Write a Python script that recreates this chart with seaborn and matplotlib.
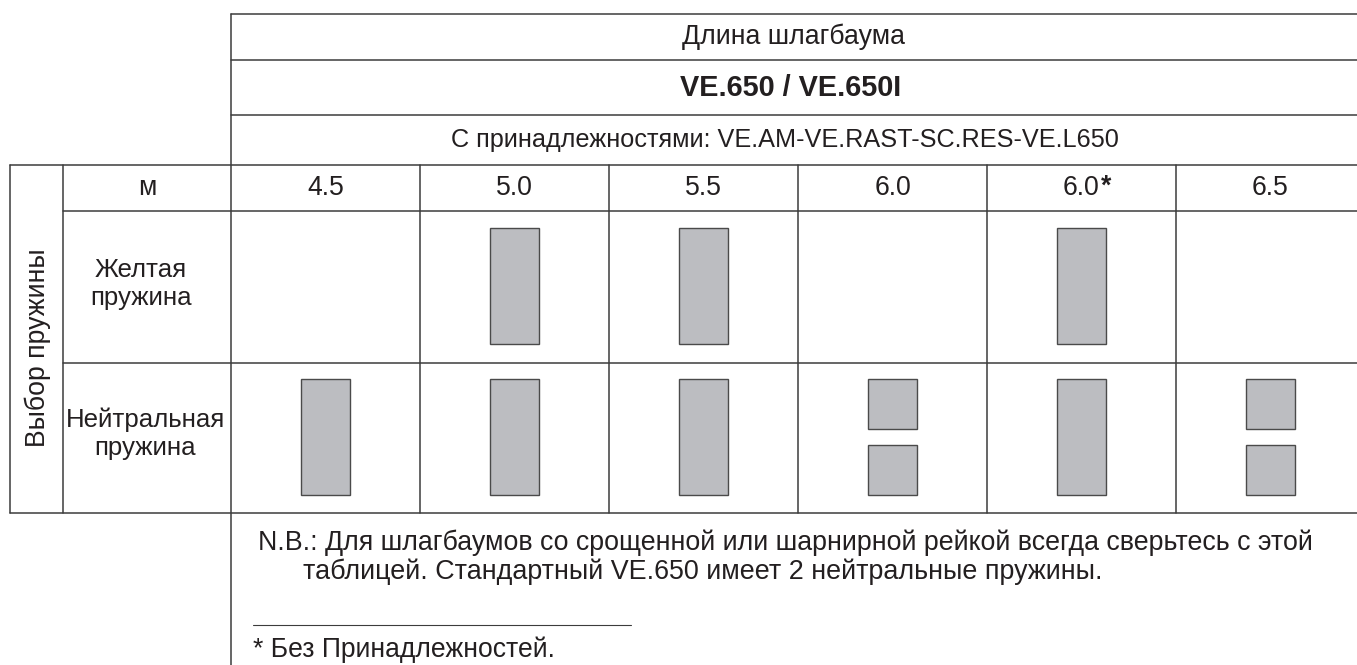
import matplotlib
matplotlib.use("Agg")
import matplotlib.pyplot as plt
from matplotlib.lines import Line2D
import seaborn as sns

# table content
lengths = ["4.5", "5.0", "5.5", "6.0", "6.0*", "6.5"]
row_labels = ["Желтая\nпружина", "Нейтральная\nпружина"]
# springs per cell: 0 = none, 1 = one long spring, 2 = two short springs
yellow_springs = [0, 1, 1, 0, 1, 0]
neutral_springs = [1, 1, 1, 2, 1, 2]

header_title = "Длина шлагбаума"
header_model = "VE.650 / VE.650I"
header_acc = "С принадлежностями: VE.AM-VE.RAST-SC.RES-VE.L650"
unit_label = "м"
side_label = "Выбор пружины"
note_lines = ["N.B.: Для шлагбаумов со срощенной или шарнирной рейкой всегда сверьтесь с этой",
              "таблицей. Стандартный VE.650 имеет 2 нейтральные пружины."]
footnote = "* Без Принадлежностей."

sns.set_theme(style="white")
plt.rcParams["font.family"] = ["Liberation Sans", "DejaVu Sans"]

W, H = 1357, 665
LINE = "#3c3c3c"
TXT = "#231f20"
FS = 19.2

fig = plt.figure(figsize=(W / 100, H / 100), dpi=100)
fig.patch.set_facecolor("white")

# table geometry in pixels
x_tab, col_w = 231, 189
x_right = x_tab + col_w * len(lengths)
rows_y = [14, 60, 115, 165, 211, 363, 513]


def px(x, y):
    return x / W, 1 - y / H


def hline(y, x0, x1, lw=1.1):
    (a, b), (c, d) = px(x0, y), px(x1, y)
    fig.add_artist(Line2D([a, c], [b, d], color=LINE, lw=lw))


def vline(x, y0, y1, lw=1.1):
    (a, b), (c, d) = px(x, y0), px(x, y1)
    fig.add_artist(Line2D([a, c], [b, d], color=LINE, lw=lw))


def text(x, y, s, **kw):
    kw.setdefault("ha", "center")
    kw.setdefault("va", "center")
    kw.setdefault("fontsize", FS)
    kw.setdefault("color", TXT)
    return fig.text(*px(x, y), s, **kw)


# axes for the spring cells: x = column, y = row (0 yellow, 1 neutral)
ax = fig.add_axes([x_tab / W, 1 - rows_y[6] / H, (x_right - x_tab) / W, (rows_y[6] - rows_y[4]) / H])
ax.set_xlim(0, len(lengths))
ax.set_ylim(2, 0)
ax.axis("off")

inset, long_h, short_h, gap, bar_w = 0.113, 0.768, 0.331, 0.106, 0.254
xs, bottoms, heights = [], [], []
for r, counts in enumerate([yellow_springs, neutral_springs]):
    for i, n in enumerate(counts):
        if n == 1:
            xs.append(i + 0.5); bottoms.append(r + inset); heights.append(long_h)
        elif n == 2:
            for k in range(2):
                xs.append(i + 0.5); bottoms.append(r + inset + k * (short_h + gap)); heights.append(short_h)
ax.bar(xs, heights, bottom=bottoms, width=bar_w, color="#bcbdc1", edgecolor="#4a4a4a", linewidth=1.0)

# grid lines
for y in rows_y[:4]:
    hline(y, x_tab if y < 165 else 10, W)
hline(rows_y[4], 63, W)
hline(rows_y[5], 63, W)
hline(rows_y[6], 10, W)
vline(10, 165, 513)
vline(63, 165, 513)
vline(x_tab, 14, H)
for i in range(1, len(lengths)):
    vline(x_tab + col_w * i, 165, 513)

# header
x_mid = (x_tab + x_right) / 2
text(x_mid - 5, 37, header_title)
text(x_mid - 7, 88, header_model, fontweight="bold", fontsize=20.8)
text(x_mid - 13, 140, header_acc, fontsize=18.2)

# column labels
text(147, 188, unit_label)
for i, lab in enumerate(lengths):
    cx = x_tab + col_w * (i + 0.5)
    base = lab.rstrip("*")
    t = text(cx, 188, base)
    if lab.endswith("*"):
        ax.annotate("*", xy=(1.02, 1.05), xycoords=t, ha="left", va="top",
                    fontsize=FS, fontweight="bold", color=TXT, annotation_clip=False)

# row labels
text(141, 284, row_labels[0], linespacing=1.2, fontsize=18.6)
text(145, 434, row_labels[1], linespacing=1.2, fontsize=18.6)
text(38, 348, side_label, rotation=90)

# notes
text(258, 543, note_lines[0], ha="left", fontsize=19.3)
text(303, 572, note_lines[1], ha="left", fontsize=19.4)
hline(625, 253, 631, lw=0.8)
text(253, 650, footnote, ha="left", fontsize=19.1)

fig.savefig("out.png", dpi=100, facecolor="white")
